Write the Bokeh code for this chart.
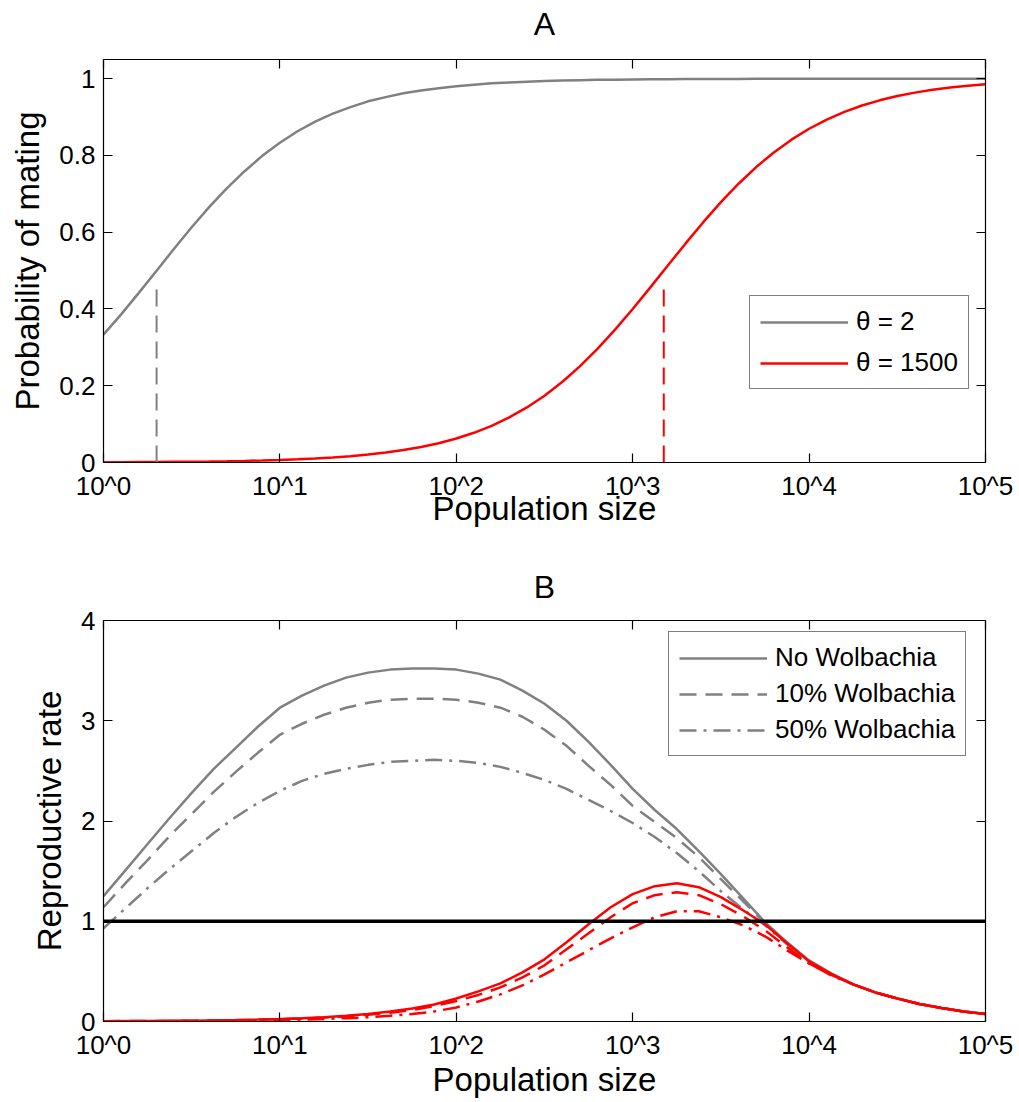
from bokeh.plotting import figure
from bokeh.models import Range1d, FixedTicker, LogAxis, LinearAxis, Legend, LegendItem
from bokeh.layouts import column
from bokeh.embed import file_html
from bokeh.resources import INLINE

FONT = "Liberation Sans"
GRAY = "#808080"
RED = "#ff0000"

# ---------------- data ----------------
x_ticks = [1, 10, 100, 1000, 10000, 100000]
x_tick_labels = ["10^0", "10^1", "10^2", "10^3", "10^4", "10^5"]

a_y_ticks = [0, 0.2, 0.4, 0.6, 0.8, 1]
a_y_tick_labels = ["0", "0.2", "0.4", "0.6", "0.8", "1"]
b_y_ticks = [0, 1, 2, 3, 4]
b_y_tick_labels = ["0", "1", "2", "3", "4"]

# Panel A: probability of mating
pop_a = [1, 1.259, 1.585, 1.995, 2.512, 3.162, 3.981, 5.012, 6.310, 7.943,
         10, 12.59, 15.85, 19.95, 25.12, 31.62, 39.81, 50.12, 63.10, 79.43,
         100, 125.9, 158.5, 199.5, 251.2, 316.2, 398.1, 501.2, 631.0, 794.3,
         1000, 1259, 1585, 1995, 2512, 3162, 3981, 5012, 6310, 7943,
         10000, 12589, 15849, 19953, 25119, 31623, 39811, 50119, 63096, 79433, 100000]
mating_theta2 = [0.333, 0.386, 0.442, 0.499, 0.557, 0.613, 0.666, 0.715, 0.759, 0.799,
                 0.833, 0.863, 0.888, 0.909, 0.926, 0.941, 0.952, 0.962, 0.969, 0.975,
                 0.980, 0.984, 0.988, 0.990, 0.992, 0.994, 0.995, 0.996, 0.997, 0.9975,
                 0.998, 0.9984, 0.9987, 0.999, 0.9992, 0.9994, 0.9995, 0.9996, 0.9997, 0.9997,
                 0.9998, 0.9998, 0.9999, 0.9999, 0.9999, 0.9999, 1.0, 1.0, 1.0, 1.0, 1.0]
mating_theta1500 = [0.0007, 0.0008, 0.0011, 0.0013, 0.0017, 0.0021, 0.0026, 0.0033, 0.0042, 0.0053,
                    0.0066, 0.0083, 0.0105, 0.0131, 0.0165, 0.0206, 0.0259, 0.0323, 0.0404, 0.0503,
                    0.0625, 0.0774, 0.0956, 0.1174, 0.1434, 0.1741, 0.2097, 0.2505, 0.2961, 0.3462,
                    0.4000, 0.4563, 0.5138, 0.5708, 0.6261, 0.6783, 0.7263, 0.7697, 0.8079, 0.8412,
                    0.8696, 0.8935, 0.9135, 0.9301, 0.9436, 0.9547, 0.9637, 0.9709, 0.9768, 0.9815, 0.9852]
theta_values = [2, 1500]
theta_marker_top = [0.46, 0.46]
theta_labels = ["\u03b8 = 2", "\u03b8 = 1500"]

# Panel B: reproductive rate
pop_b = [1, 1.334, 1.778, 2.371, 3.162, 4.217, 5.623, 7.499, 10, 13.34,
         17.78, 23.71, 31.62, 42.17, 56.23, 74.99, 100, 133.4, 177.8, 237.1,
         316.2, 421.7, 562.3, 749.9, 1000, 1334, 1778, 2371, 3162, 4217,
         5623, 7499, 10000, 13335, 17783, 23714, 31623, 42170, 56234, 74989, 100000]
gray_none = [1.25, 1.51, 1.77, 2.03, 2.28, 2.52, 2.73, 2.94, 3.13, 3.25,
             3.35, 3.43, 3.48, 3.51, 3.52, 3.52, 3.51, 3.47, 3.41, 3.30,
             3.17, 3.00, 2.79, 2.56, 2.32, 2.11, 1.92, 1.70, 1.47, 1.23,
             0.99, 0.79, 0.61, 0.48, 0.37, 0.29, 0.23, 0.175, 0.135, 0.10, 0.075]
gray_10 = [1.14, 1.38, 1.61, 1.85, 2.07, 2.29, 2.49, 2.68, 2.86, 2.97,
           3.06, 3.13, 3.18, 3.21, 3.22, 3.22, 3.21, 3.18, 3.13, 3.04,
           2.91, 2.75, 2.55, 2.36, 2.15, 1.99, 1.83, 1.64, 1.42, 1.20,
           0.98, 0.78, 0.60, 0.475, 0.37, 0.29, 0.23, 0.175, 0.135, 0.10, 0.075]
gray_50 = [0.93, 1.13, 1.33, 1.52, 1.70, 1.88, 2.04, 2.18, 2.30, 2.40,
           2.47, 2.52, 2.56, 2.59, 2.60, 2.61, 2.60, 2.58, 2.54, 2.48,
           2.41, 2.32, 2.21, 2.10, 1.98, 1.84, 1.68, 1.50, 1.30, 1.12,
           0.96, 0.77, 0.60, 0.475, 0.37, 0.29, 0.23, 0.175, 0.135, 0.10, 0.075]
red_none = [0.003, 0.004, 0.005, 0.0065, 0.008, 0.011, 0.014, 0.019, 0.025, 0.033,
            0.043, 0.057, 0.075, 0.099, 0.13, 0.17, 0.23, 0.30, 0.38, 0.49,
            0.62, 0.79, 0.97, 1.14, 1.27, 1.35, 1.38, 1.34, 1.24, 1.11,
            0.97, 0.78, 0.60, 0.475, 0.37, 0.29, 0.23, 0.175, 0.135, 0.10, 0.075]
red_10 = [0.003, 0.004, 0.0045, 0.006, 0.007, 0.0095, 0.013, 0.017, 0.022, 0.029,
          0.039, 0.051, 0.067, 0.088, 0.115, 0.155, 0.205, 0.265, 0.34, 0.44,
          0.56, 0.72, 0.88, 1.04, 1.18, 1.26, 1.29, 1.26, 1.17, 1.05,
          0.91, 0.74, 0.58, 0.465, 0.37, 0.29, 0.23, 0.175, 0.135, 0.10, 0.075]
red_50 = [0.002, 0.0025, 0.003, 0.004, 0.005, 0.0065, 0.008, 0.011, 0.014, 0.019,
          0.025, 0.033, 0.043, 0.057, 0.075, 0.10, 0.14, 0.20, 0.27, 0.36,
          0.47, 0.59, 0.71, 0.83, 0.94, 1.04, 1.10, 1.10, 1.04, 0.96,
          0.85, 0.71, 0.58, 0.46, 0.37, 0.29, 0.23, 0.175, 0.135, 0.10, 0.075]
threshold_x = [1, 100000]
threshold_y = [1, 1]
wolbachia_labels = ["No Wolbachia", "10% Wolbachia", "50% Wolbachia"]

DASH = "17 9"
DASHDOT = "17 7 3 7"
FRAME_W = 882


def style_fig(p, title, y_ticks, y_labels, ylabel, title_standoff,
              x_label_standoff, y_label_standoff):
    p.xgrid.visible = False
    p.ygrid.visible = False
    p.outline_line_color = None

    xa = p.xaxis[0]
    xa.ticker = FixedTicker(ticks=x_ticks, minor_ticks=[])
    xa.major_label_overrides = dict(zip(x_ticks, x_tick_labels))
    xa.axis_label = "Population size"
    ya = p.yaxis[0]
    ya.ticker = FixedTicker(ticks=y_ticks, minor_ticks=[])
    ya.major_label_overrides = dict(zip(y_ticks, y_labels))
    ya.axis_label = ylabel
    for ax in (xa, ya):
        ax.axis_label_text_font = FONT
        ax.axis_label_text_font_size = "33px"
        ax.axis_label_text_font_style = "normal"
        ax.axis_label_text_color = "black"
        ax.major_label_text_font = FONT
        ax.major_label_text_font_size = "26px"
        ax.major_label_text_color = "black"
        ax.major_tick_in = 9
        ax.major_tick_out = 0
        ax.minor_tick_in = 0
        ax.minor_tick_out = 0
        ax.axis_line_width = 1.2
        ax.major_tick_line_width = 1.2
    xa.major_label_standoff = 8
    ya.major_label_standoff = 8
    xa.axis_label_standoff = x_label_standoff
    ya.axis_label_standoff = y_label_standoff

    # top axis: inward ticks + panel letter as its label
    top = LogAxis(ticker=FixedTicker(ticks=x_ticks, minor_ticks=[]),
                  major_label_overrides={t: "" for t in x_ticks},
                  major_label_text_font_size="0px",
                  major_tick_in=9, major_tick_out=0, minor_tick_in=0, minor_tick_out=0,
                  axis_line_width=1.2, major_tick_line_width=1.2, major_label_standoff=0,
                  axis_label=title, axis_label_text_font=FONT,
                  axis_label_text_font_size="32px", axis_label_text_font_style="normal",
                  axis_label_text_color="black", axis_label_standoff=title_standoff)
    right = LinearAxis(ticker=FixedTicker(ticks=y_ticks, minor_ticks=[]),
                       major_label_overrides={t: "" for t in y_ticks},
                       major_label_text_font_size="0px",
                       major_tick_in=9, major_tick_out=0, minor_tick_in=0, minor_tick_out=0,
                       axis_line_width=1.2, major_tick_line_width=1.2, major_label_standoff=0)
    p.add_layout(top, "above")
    p.add_layout(right, "right")


def make_legend(items, loc, spacing):
    return Legend(items=items, location=loc, label_text_font=FONT,
                  label_text_font_size="26px", label_text_color="black",
                  glyph_width=88, glyph_height=30,
                  label_height=30, spacing=spacing, padding=10, label_standoff=8,
                  border_line_color="black", border_line_width=1.2,
                  background_fill_color="white", background_fill_alpha=1.0, margin=0)


# ---------------- Panel A ----------------
pA = figure(x_axis_type="log", x_range=Range1d(1, 100000), y_range=Range1d(0, 1.05),
            frame_width=FRAME_W, frame_height=403, min_border_left=103, min_border_right=30,
            min_border_top=59, min_border_bottom=83,
            output_backend="svg", toolbar_location=None)
style_fig(pA, "A", a_y_ticks, a_y_tick_labels, "Probability of mating", 18, -14, 10)

rA1 = pA.line(pop_a, mating_theta2, line_color=GRAY, line_width=2.5)
rA2 = pA.line(pop_a, mating_theta1500, line_color=RED, line_width=2.5)
pA.segment(x0=theta_values, y0=[0, 0], x1=theta_values, y1=theta_marker_top,
           line_color=[GRAY, RED], line_width=2, line_dash=DASH)
pA.add_layout(make_legend([LegendItem(label=theta_labels[0], renderers=[rA1]),
                           LegendItem(label=theta_labels[1], renderers=[rA2])],
                          (646, 73), 10))

# ---------------- Panel B ----------------
pB = figure(x_axis_type="log", x_range=Range1d(1, 100000), y_range=Range1d(0, 4),
            frame_width=FRAME_W, frame_height=401, min_border_left=103, min_border_right=30,
            min_border_top=75, min_border_bottom=75,
            output_backend="svg", toolbar_location=None)
style_fig(pB, "B", b_y_ticks, b_y_tick_labels, "Reproductive rate", 16, -2, 10)

rB1 = pB.line(pop_b, gray_none, line_color=GRAY, line_width=2.5)
rB2 = pB.line(pop_b, gray_10, line_color=GRAY, line_width=2.5, line_dash=DASH)
rB3 = pB.line(pop_b, gray_50, line_color=GRAY, line_width=2.5, line_dash=DASHDOT)
pB.line(pop_b, red_none, line_color=RED, line_width=2.5)
pB.line(pop_b, red_10, line_color=RED, line_width=2.5, line_dash=DASH)
pB.line(pop_b, red_50, line_color=RED, line_width=2.5, line_dash=DASHDOT)
pB.line(threshold_x, threshold_y, line_color="black", line_width=3.5)
pB.add_layout(make_legend([LegendItem(label=wolbachia_labels[0], renderers=[rB1]),
                           LegendItem(label=wolbachia_labels[1], renderers=[rB2]),
                           LegendItem(label=wolbachia_labels[2], renderers=[rB3])],
                          (565, 265), 5))

layout = column(pA, pB)
open("out.html", "w").write(file_html(layout, INLINE))
